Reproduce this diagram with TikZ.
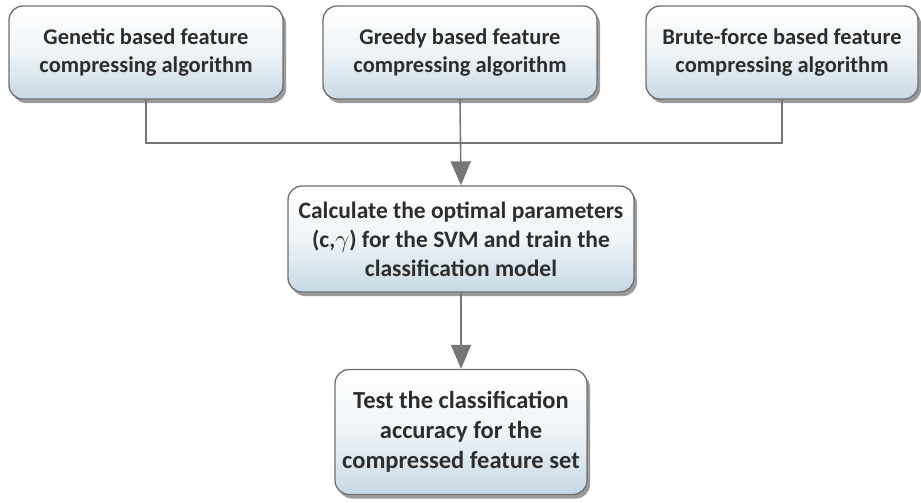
\documentclass[tikz,border=0pt]{standalone}
\usepackage{fontspec}
\setmainfont{Carlito}
\usetikzlibrary{shadows,arrows.meta}
\definecolor{boxborder}{RGB}{110,110,110}
\definecolor{boxbottom}{RGB}{200,217,229}
\definecolor{txt}{RGB}{45,45,45}
\definecolor{conn}{RGB}{118,118,118}
\tikzset{
  box/.style={draw=boxborder, line width=1.3pt, rounded corners=14pt,
    top color=white, bottom color=boxbottom, middle color=white!70!boxbottom,
    drop shadow={shadow xshift=3pt, shadow yshift=-4pt, opacity=0.6, fill=black!65},
    align=center, text=txt, inner sep=0pt},
  conline/.style={draw=conn, line width=1.6pt},
  conarrow/.style={conline, -{Triangle[length=24pt,width=20pt]}}
}
\begin{document}
\begin{tikzpicture}[x=1pt,y=-1pt]
\useasboundingbox (0,0) rectangle (921,503);
\node[box, font=\bfseries\fontsize{22.5}{28}\selectfont, minimum width=274pt, minimum height=93pt] (b1) at (146,52.5) {Genetic based feature\\compressing algorithm};
\node[box, font=\bfseries\fontsize{22.5}{28}\selectfont, minimum width=274pt, minimum height=93pt] (b2) at (460,52.5) {Greedy based feature\\compressing algorithm};
\node[box, font=\bfseries\fontsize{22.5}{28}\selectfont, minimum width=272pt, minimum height=93pt] (b3) at (782,52.5) {Brute-force based feature\\compressing algorithm};
\node[box, font=\bfseries\fontsize{23.5}{29}\selectfont, minimum width=346pt, minimum height=106pt] (m) at (461,239) {Calculate the optimal parameters\\(c,$\gamma$) for the SVM and train the\\classification model};
\node[box, font=\bfseries\fontsize{24.5}{30}\selectfont, minimum width=252pt, minimum height=125pt] (t) at (461,432) {Test the classification\\accuracy for the\\compressed feature set};
\coordinate (j) at (460,143);
\draw[conline] (b1.south) |- (j);
\draw[conline] (b3.south) |- (j);
\draw[conarrow] (b2.south) -- (m.north);
\draw[conarrow] (m.south) -- (t.north);
\end{tikzpicture}
\end{document}
